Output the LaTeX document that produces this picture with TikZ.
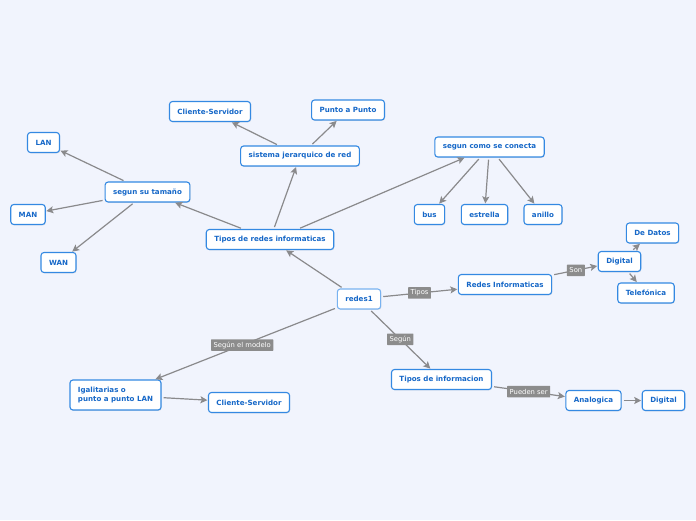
\documentclass[tikz,border=0pt]{standalone}
\usepackage{fontspec}
\setmainfont{DejaVu Sans}
\usetikzlibrary{arrows.meta,shadows}
\definecolor{bgc}{RGB}{241,244,253}
\definecolor{bordc}{RGB}{52,137,226}
\definecolor{rootc}{RGB}{120,178,240}
\definecolor{txtc}{RGB}{22,104,200}
\definecolor{linec}{RGB}{138,138,140}
\definecolor{lblc}{RGB}{140,140,140}
\tikzset{
  topic/.style={draw=bordc, line width=1.1pt, fill=white, rounded corners=3pt,
    text=txtc, font=\fontsize{7.1}{8.6}\selectfont\bfseries, inner xsep=8pt, inner ysep=0pt,
    minimum height=20pt,
    drop shadow={opacity=0.18, shadow xshift=0.7pt, shadow yshift=-0.9pt}},
  rootnode/.style={topic, draw=rootc},
  conn/.style={draw=linec, line width=1.2pt, shorten <=2pt, shorten >=0.5pt,
    -{Stealth[length=7pt,width=7pt,inset=1.5pt]}},
  lbl/.style={fill=lblc, text=white, font=\fontsize{6.8}{7.5}\selectfont, inner xsep=2.5pt,
    inner ysep=0pt, minimum height=11.5pt, rounded corners=0.5pt}
}
\begin{document}
\begin{tikzpicture}[x=1pt,y=-1pt]
\fill[bgc] (0,0) rectangle (696,520);
\useasboundingbox (0,0) rectangle (696,520);

\node[rootnode] (r) at (359,299) {redes1};
\node[topic] (tri) at (270,239.5) {Tipos de redes informaticas};
\node[topic] (sst) at (147.5,192) {segun su tamaño};
\node[topic] (lan) at (43.5,142.5) {LAN};
\node[topic] (man) at (28,214.5) {MAN};
\node[topic] (wan) at (58.5,262.5) {WAN};
\node[topic] (sjr) at (300,156) {sistema jerarquico de red};
\node[topic] (cs1) at (210,111.5) {Cliente-Servidor};
\node[topic] (pap) at (348,110) {Punto a Punto};
\node[topic] (scc) at (489.5,147) {segun como se conecta};
\node[topic] (bus) at (429.5,214.5) {bus};
\node[topic] (est) at (484.5,214.5) {estrella};
\node[topic] (ani) at (543,214.5) {anillo};
\node[topic] (rin) at (505,284.5) {Redes Informaticas};
\node[topic] (dig1) at (619.5,261.5) {Digital};
\node[topic] (dat) at (652.5,233) {De Datos};
\node[topic] (tel) at (646,293) {Telefónica};
\node[topic] (tin) at (441.5,379.5) {Tipos de informacion};
\node[topic] (ana) at (593.5,400.5) {Analogica};
\node[topic] (dig2) at (663.5,400.5) {Digital};
\node[topic, align=left, minimum height=30pt] (iga) at (115.5,395) {Igalitarias o\\punto a punto LAN};
\node[topic] (cs2) at (249,402.5) {Cliente-Servidor};

\coordinate (triA) at ([xshift=-36pt]tri.north east);

\draw[conn] (r) -- (tri);
\draw[conn] (tri) -- (sst);
\draw[conn] (sst) -- (lan);
\draw[conn] (sst) -- (man);
\draw[conn] (sst) -- (wan);
\draw[conn] (tri) -- (sjr);
\draw[conn] (sjr) -- (cs1);
\draw[conn] (sjr) -- (pap);
\draw[conn] (triA) -- (scc);
\draw[conn] (scc) -- (bus);
\draw[conn] (scc) -- (est);
\draw[conn] (scc) -- (ani);
\draw[conn] (r) -- node[lbl, pos=0.5] {Tipos} (rin);
\draw[conn] (rin) -- node[lbl, pos=0.52] {Son} (dig1);
\draw[conn] (dig1) -- (dat);
\draw[conn] (dig1) -- (tel);
\draw[conn] (r) -- node[lbl, pos=0.5] {Según} (tin);
\draw[conn] (tin) -- node[lbl, pos=0.5] {Pueden ser} (ana);
\draw[conn] (ana) -- (dig2);
\draw[conn] (r) -- node[lbl, pos=0.52] {Según el modelo} (iga);
\draw[conn] (iga) -- (cs2);
\end{tikzpicture}
\end{document}
